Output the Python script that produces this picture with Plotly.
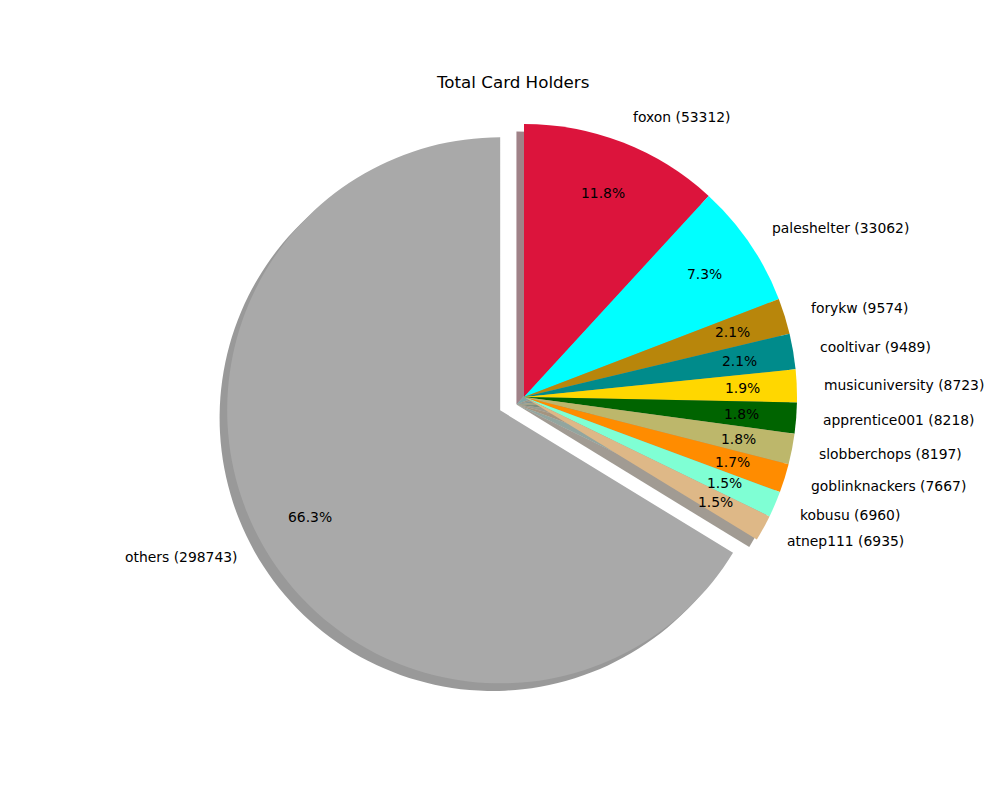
import math
import plotly.graph_objects as go

# ---- data ----
names = ["foxon", "paleshelter", "forykw", "cooltivar", "musicuniversity",
         "apprentice001", "slobberchops", "goblinknackers", "kobusu",
         "atnep111", "others"]
values = [53312, 33062, 9574, 9489, 8723, 8218, 8197, 7667, 6960, 6935, 298743]
colors = ["#DC143C", "#00FFFF", "#B8860B", "#008B8B", "#FFD700", "#006400",
          "#BDB76B", "#FF8C00", "#7FFFD4", "#DEB887", "#A9A9A9"]
explode = [0, 0, 0, 0, 0, 0, 0, 0, 0, 0, 0.1]
title = "Total Card Holders"

# ---- layout geometry (pixels) ----
W, H = 1000, 800
CX, CY, R = 524.0, 397.0, 273.0
maxpull = max(explode)
half = R * (1 + maxpull)          # plotly: r = min(rx, ry) / (1 + maxPull)
SH = 0.02 * 100 / 72 * R          # matplotlib shadow offset


def dom(cx, cy):
    return dict(x=[(cx - half) / W, (cx + half) / W],
                y=[1 - (cy + half) / H, 1 - (cy - half) / H])


def hex_rgb(h):
    h = h.lstrip("#")
    return tuple(int(h[i:i + 2], 16) for i in (0, 2, 4))


shadow_colors = []
for c in colors:
    r, g, b = hex_rgb(c)
    shadow_colors.append(f"rgba({0.3*r:.0f},{0.3*g:.0f},{0.3*b:.0f},0.5)")

common = dict(labels=names, values=values, sort=False, direction="clockwise",
              rotation=0, pull=explode, textinfo="none", hoverinfo="skip",
              showlegend=False)

fig = go.Figure()
fig.add_trace(go.Pie(**common, marker=dict(colors=shadow_colors, line=dict(width=0)),
                     domain=dom(CX - SH, CY + SH)))
fig.add_trace(go.Pie(**common, marker=dict(colors=colors, line=dict(width=0)),
                     domain=dom(CX, CY)))

FONT = dict(family="DejaVu Sans", size=13.9, color="black")
total = sum(values)
cum = 0.0
annotations = []
for n, v, ex in zip(names, values, explode):
    frac_mid = (cum + v / 2) / total
    cum += v
    th = math.radians(90 - frac_mid * 360)
    ox = CX + ex * R * math.cos(th)
    oy = CY - ex * R * math.sin(th)
    lx = ox + 1.1 * R * math.cos(th)
    ly = oy - 1.1 * R * math.sin(th)
    px = ox + 0.8 * R * math.cos(th)
    py = oy - 0.8 * R * math.sin(th)
    annotations.append(dict(x=lx / W, y=1 - ly / H, xref="paper", yref="paper",
                            text=f"{n} ({v})", showarrow=False,
                            borderpad=0, borderwidth=0,
                            xanchor="left" if math.cos(th) > 0 else "right",
                            yanchor="middle", font=FONT))
    annotations.append(dict(x=px / W, y=1 - py / H, xref="paper", yref="paper",
                            text=f"{100 * v / total:.1f}%", showarrow=False,
                            borderpad=0, borderwidth=0,
                            xanchor="center", yanchor="middle", font=FONT))

annotations.append(dict(x=512.5 / W, y=1 - 82 / H, xref="paper", yref="paper",
                        text=title, showarrow=False, xanchor="center",
                        yanchor="middle", borderpad=0, borderwidth=0,
                        font=dict(family="DejaVu Sans", size=16.7, color="black")))

fig.update_layout(width=W, height=H, margin=dict(l=0, r=0, t=0, b=0),
                  paper_bgcolor="white", plot_bgcolor="white",
                  annotations=annotations, showlegend=False)

fig.write_html("out.html")
